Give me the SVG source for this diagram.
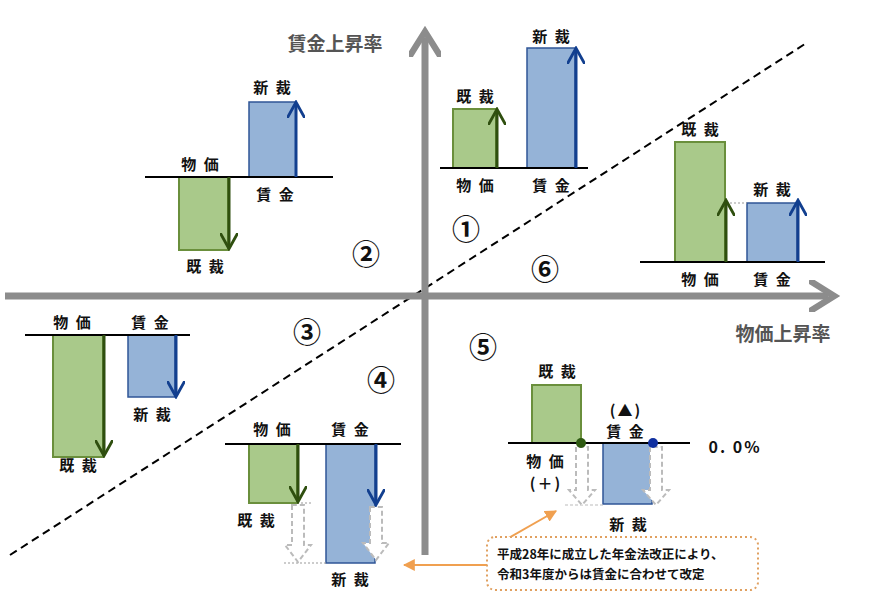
<svg xmlns="http://www.w3.org/2000/svg" width="870" height="600" viewBox="0 0 870 600">
<defs>
<style>
text{font-family:"Noto Sans CJK JP","Liberation Sans",sans-serif;font-weight:bold;fill:#111;text-anchor:middle}
.lb{font-size:15px;letter-spacing:2px}
.num{font-size:28px;font-weight:bold}
.ax{font-size:19px;fill:#555}
.g{fill:#a9c98a;stroke:#6a8f3c;stroke-width:2}
.b{fill:#95b3d7;stroke:#2f5597;stroke-width:1.5}
.base{stroke:#000;stroke-width:2}
.ga{stroke:#2f4f0f;stroke-width:3;fill:none}
.ba{stroke:#123f8f;stroke-width:3;fill:none}
.ho{fill:#fff;stroke:#bbb;stroke-width:2;stroke-dasharray:5 3}
.cl{font-size:12.5px;text-anchor:start}
</style>
<marker id="ag" viewBox="0 0 10 10" refX="8" refY="5" markerWidth="6" markerHeight="6" orient="auto"><path d="M0,0 L9,5 L0,10" fill="none" stroke="#2f4f0f" stroke-width="1.6"/></marker>
<marker id="ab" viewBox="0 0 10 10" refX="8" refY="5" markerWidth="6" markerHeight="6" orient="auto"><path d="M0,0 L9,5 L0,10" fill="none" stroke="#123f8f" stroke-width="1.6"/></marker>
<marker id="ax" viewBox="0 0 10 10" refX="6" refY="5" markerWidth="4.5" markerHeight="4.5" orient="auto"><path d="M0,0 L8,5 L0,10" fill="none" stroke="#8c8c8c" stroke-width="2"/></marker>
<marker id="ao" viewBox="0 0 10 10" refX="9" refY="5" markerWidth="6" markerHeight="6" orient="auto"><path d="M0,0 L10,5 L0,10 Z" fill="#f0a050"/></marker>
</defs>
<rect width="870" height="600" fill="#fff"/>
<g id="connectors">
<line x1="10" y1="555" x2="808" y2="42" stroke="#000" stroke-width="2" stroke-dasharray="8 5"/>
<line x1="425" y1="555" x2="425" y2="38" stroke="#8c8c8c" stroke-width="7" marker-end="url(#ax)"/>
<line x1="5" y1="296" x2="828" y2="296" stroke="#8c8c8c" stroke-width="7" marker-end="url(#ax)"/>
<line x1="505" y1="540" x2="556" y2="511" stroke="#f0a050" stroke-width="2" marker-end="url(#ao)"/>
<line x1="487" y1="565" x2="404" y2="565" stroke="#f0a050" stroke-width="2" marker-end="url(#ao)"/>
</g>
<g id="axis-labels">
<text class="ax" x="335" y="51">賃金上昇率</text>
<text class="ax" x="783" y="341">物価上昇率</text>
<text class="num" x="466" y="240">①</text>
<text class="num" x="366" y="265">②</text>
<text class="num" x="307" y="343">③</text>
<text class="num" x="381" y="391">④</text>
<text class="num" x="483" y="358">⑤</text>
<text class="num" x="545" y="280">⑥</text>
</g>
<g id="q1">
<rect class="g" x="453" y="109" width="43" height="59"/>
<rect class="b" x="527" y="48" width="48" height="120"/>
<line class="base" x1="440" y1="168" x2="588" y2="168"/>
<line class="ga" x1="497" y1="168" x2="497" y2="111" marker-end="url(#ag)"/>
<line class="ba" x1="576" y1="168" x2="576" y2="50" marker-end="url(#ab)"/>
<text class="lb" x="476" y="102">既 裁</text><text class="lb" x="552" y="42">新 裁</text>
<text class="lb" x="476" y="191">物 価</text><text class="lb" x="552" y="191">賃 金</text>
</g>
<g id="q2">
<rect class="b" x="249" y="102" width="47" height="75"/>
<rect class="g" x="179" y="177" width="49" height="73"/>
<line class="base" x1="145" y1="177" x2="333" y2="177"/>
<line class="ba" x1="296" y1="177" x2="296" y2="104" marker-end="url(#ab)"/>
<line class="ga" x1="229" y1="177" x2="229" y2="247" marker-end="url(#ag)"/>
<text class="lb" x="273" y="93">新 裁</text><text class="lb" x="201" y="170">物 価</text>
<text class="lb" x="276" y="200">賃 金</text><text class="lb" x="206" y="272">既 裁</text>
</g>
<g id="q6">
<rect class="g" x="675" y="142" width="50" height="120"/>
<rect class="b" x="747" y="203" width="50" height="59"/>
<line x1="726" y1="203" x2="747" y2="203" stroke="#999" stroke-dasharray="2 2"/>
<line class="base" x1="640" y1="262" x2="825" y2="262"/>
<line class="ga" x1="726" y1="262" x2="726" y2="202" marker-end="url(#ag)"/>
<line class="ba" x1="798" y1="262" x2="798" y2="202" marker-end="url(#ab)"/>
<text class="lb" x="701" y="135">既 裁</text><text class="lb" x="773" y="195">新 裁</text>
<text class="lb" x="701" y="285">物 価</text><text class="lb" x="773" y="285">賃 金</text>
</g>
<g id="q3">
<rect class="g" x="53" y="335" width="50" height="122"/>
<rect class="b" x="128" y="335" width="47" height="62"/>
<line class="base" x1="25" y1="335" x2="190" y2="335"/>
<line class="ga" x1="104" y1="335" x2="104" y2="454" marker-end="url(#ag)"/>
<line class="ba" x1="176" y1="335" x2="176" y2="395" marker-end="url(#ab)"/>
<text class="lb" x="73" y="328">物 価</text><text class="lb" x="151" y="328">賃 金</text>
<text class="lb" x="153" y="420">新 裁</text><text class="lb" x="79" y="471">既 裁</text>
</g>
<g id="q4">
<rect class="g" x="249" y="444" width="48" height="59"/>
<rect class="b" x="326" y="444" width="49" height="119"/>
<line x1="297" y1="503" x2="312" y2="503" stroke="#999" stroke-dasharray="2 2"/>
<line x1="284" y1="563" x2="326" y2="563" stroke="#999" stroke-dasharray="2 2"/>
<path class="ho" d="M292,505 V545 H285 L298,562 L311,545 H304 V505 Z"/>
<path class="ho" d="M370,507 V543 H363 L376,560 L389,543 H382 V507 Z"/>
<line class="base" x1="225" y1="444" x2="401" y2="444"/>
<line class="ga" x1="298" y1="444" x2="298" y2="500" marker-end="url(#ag)"/>
<line class="ba" x1="376" y1="444" x2="376" y2="503" marker-end="url(#ab)"/>
<text class="lb" x="273" y="435">物 価</text><text class="lb" x="351" y="435">賃 金</text>
<text class="lb" x="257" y="526">既 裁</text><text class="lb" x="351" y="585">新 裁</text>
</g>
<g id="q5">
<rect class="g" x="532" y="385" width="49" height="58"/>
<rect class="b" x="603" y="443" width="49" height="61"/>
<line x1="565" y1="505" x2="603" y2="505" stroke="#bbb" stroke-dasharray="3 2"/>
<path class="ho" d="M576,447 V490 H569 L582,505 L595,490 H588 V447 Z"/>
<path class="ho" d="M650,447 V490 H643 L656,505 L669,490 H662 V447 Z"/>
<line class="base" x1="508" y1="443" x2="690" y2="443"/>
<circle cx="581" cy="443" r="5" fill="#2f5a12"/>
<circle cx="653" cy="443" r="5" fill="#1030a0"/>
<text class="lb" x="558" y="377">既 裁</text><text class="lb" x="626" y="416">(▲)</text>
<text class="lb" x="626" y="437">賃 金</text><text class="lb" x="546" y="467">物 価</text>
<text class="lb" x="546" y="489">(＋)</text><text class="lb" x="629" y="530">新 裁</text>
<text class="lb" x="735" y="453" style="font-size:16px">0. 0%</text>
</g>
<g id="callout">
<rect x="487" y="537" width="271" height="53" rx="8" fill="#fff" stroke="#e0a060" stroke-width="2" stroke-dasharray="2 3"/>
<text class="cl" x="497" y="559">平成28年に成立した年金法改正により、</text>
<text class="cl" x="497" y="579">令和3年度からは賃金に合わせて改定</text>
</g>
</svg>
